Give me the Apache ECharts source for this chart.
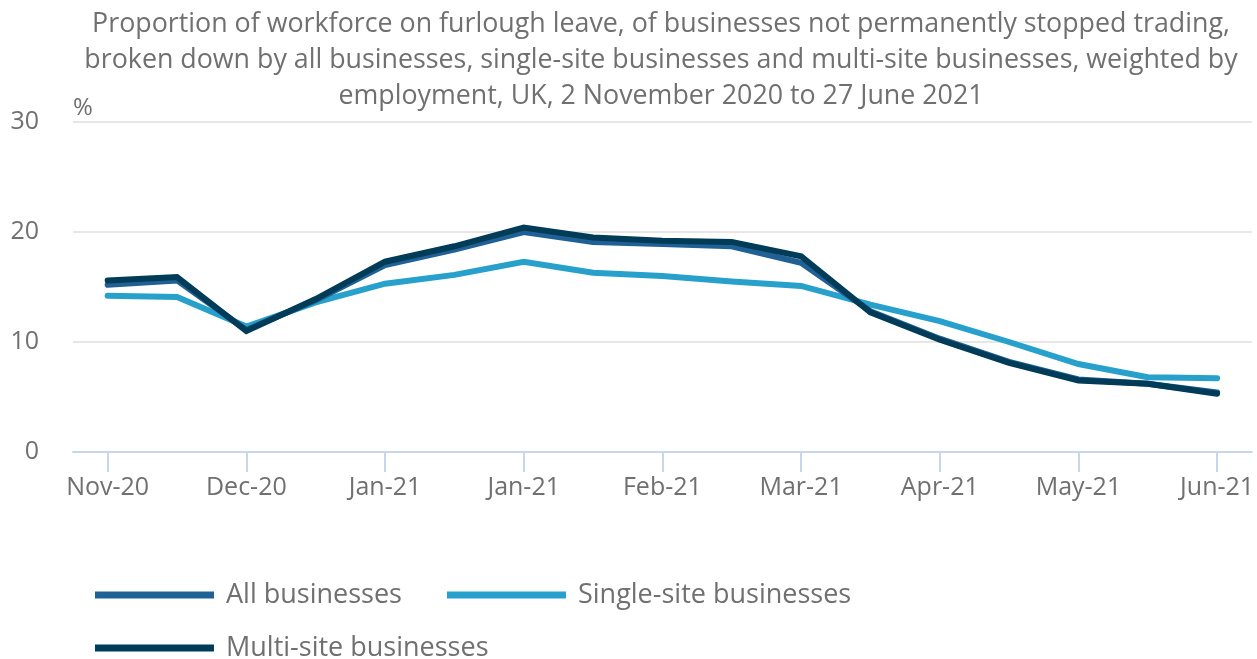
<!DOCTYPE html>
<html>
<head>
<meta charset="utf-8">
<title>Furlough proportion by business type</title>
<script src="https://cdn.jsdelivr.net/npm/echarts@6/dist/echarts.min.js"></script>
<style>
  html, body { margin: 0; padding: 0; background: #ffffff; }
  #chart { width: 1257px; height: 659px; }
</style>
</head>
<body>
<div id="chart"></div>
<script>
// Fortnightly periods, 2 November 2020 to 27 June 2021
const periods = [
  'Nov-20', 'Nov-20', 'Dec-20', 'Dec-20', 'Jan-21', 'Jan-21', 'Jan-21', 'Feb-21', 'Feb-21',
  'Feb-21', 'Mar-21', 'Mar-21', 'Apr-21', 'Apr-21', 'May-21', 'May-21', 'Jun-21'
];

// Proportion of workforce on furlough leave (%)
const allBusinesses = [15.2, 15.6, 11.1, 13.8, 17.0, 18.4, 20.0, 19.1, 18.9, 18.7, 17.2, 12.8, 10.3, 8.2, 6.6, 6.2, 5.4];
const singleSite    = [14.2, 14.1, 11.4, 13.6, 15.3, 16.1, 17.3, 16.3, 16.0, 15.5, 15.1, 13.4, 11.9, 10.0, 8.0, 6.8, 6.7];
const multiSite     = [15.6, 15.9, 11.0, 13.9, 17.3, 18.7, 20.4, 19.5, 19.2, 19.1, 17.8, 12.7, 10.2, 8.1, 6.5, 6.2, 5.3];

const yTicks = [0, 10, 20, 30];

const seriesNames = ['All businesses', 'Single-site businesses', 'Multi-site businesses'];
const seriesColors = ['#206095', '#27a0cc', '#003c57'];

const textGrey = '#707070';
const fontFamily = '"Open Sans", "Noto Sans", sans-serif';

const chart = echarts.init(document.getElementById('chart'));

function lineSeries(idx, data) {
  return {
    name: seriesNames[idx],
    type: 'line',
    data: data,
    symbol: 'none',
    lineStyle: { width: 6, color: seriesColors[idx], cap: 'round', join: 'miter' },
    itemStyle: { color: seriesColors[idx] },
    emphasis: { disabled: true }
  };
}

const legendText = {
  color: textGrey,
  fontFamily: fontFamily,
  fontSize: 27,
  lineHeight: 32,
  padding: [0, 0, 0, 7]
};

chart.setOption({
  animation: false,
  backgroundColor: '#ffffff',
  title: {
    text: 'Proportion of workforce on furlough leave, of businesses not permanently stopped trading,\n' +
          'broken down by all businesses, single-site businesses and multi-site businesses, weighted by\n' +
          'employment, UK, 2 November 2020 to 27 June 2021',
    left: 661,
    top: 6,
    padding: 0,
    textAlign: 'center',
    textStyle: {
      color: textGrey,
      fontFamily: fontFamily,
      fontSize: 26.8,
      fontWeight: 'normal',
      lineHeight: 36
    }
  },
  legend: [
    {
      data: [seriesNames[0], seriesNames[1]],
      left: 95,
      top: 579,
      padding: 0,
      orient: 'horizontal',
      icon: 'rect',
      itemWidth: 119,
      itemHeight: 7,
      itemGap: 45,
      selectedMode: false,
      textStyle: legendText
    },
    {
      data: [seriesNames[2]],
      left: 95,
      top: 632,
      padding: 0,
      orient: 'horizontal',
      icon: 'rect',
      itemWidth: 119,
      itemHeight: 7,
      selectedMode: false,
      textStyle: legendText
    }
  ],
  grid: { left: 73, right: 1, top: 122, bottom: 207, containLabel: false },
  xAxis: {
    type: 'category',
    data: periods,
    boundaryGap: true,
    axisLine: { show: true, lineStyle: { color: '#c9d5ec', width: 2 } },
    axisTick: { show: true, interval: 1, alignWithLabel: true, length: 20, lineStyle: { color: '#c9d5ec', width: 2 } },
    axisLabel: { interval: 1, color: textGrey, fontFamily: fontFamily, fontSize: 25, margin: 23 },
    splitLine: { show: false }
  },
  yAxis: {
    type: 'value',
    min: yTicks[0],
    max: yTicks[yTicks.length - 1],
    interval: 10,
    name: '%',
    nameLocation: 'end',
    nameGap: 2,
    nameTextStyle: { color: textGrey, fontFamily: fontFamily, fontSize: 24, align: 'left' },
    axisLine: { show: false },
    axisTick: { show: false },
    axisLabel: { color: textGrey, fontFamily: fontFamily, fontSize: 25, margin: 34 },
    splitLine: { show: true, lineStyle: { color: '#e6e6e6', width: 2 } }
  },
  series: [
    lineSeries(1, singleSite),
    lineSeries(0, allBusinesses),
    lineSeries(2, multiSite)
  ]
});
</script>
</body>
</html>
